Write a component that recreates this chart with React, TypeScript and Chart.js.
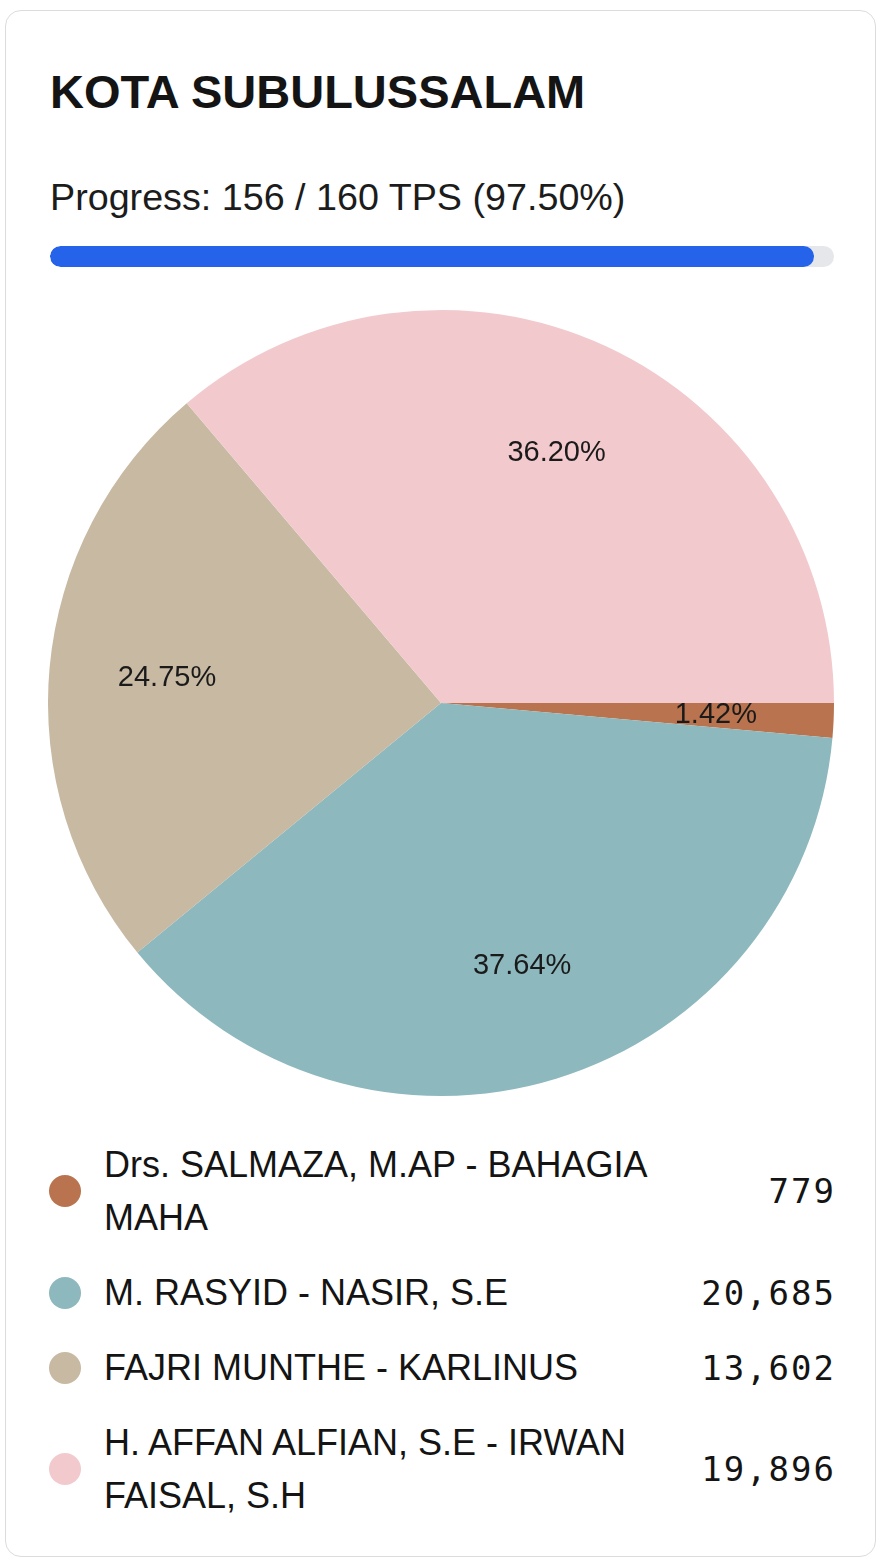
import React, { useEffect, useRef } from "react";
import { Chart, registerables } from "chart.js";

Chart.register(...registerables);

const title = "KOTA SUBULUSSALAM";
const tpsDone = 156;
const tpsTotal = 160;
const candidates = [
  "Drs. SALMAZA, M.AP - BAHAGIA MAHA",
  "M. RASYID - NASIR, S.E",
  "FAJRI MUNTHE - KARLINUS",
  "H. AFFAN ALFIAN, S.E - IRWAN FAISAL, S.H",
];
const votes = [779, 20685, 13602, 19896];
const colors = ["#b9744f", "#8db8bd", "#c8b9a3", "#f2cace"];

const FONT = "'Liberation Sans', Arial, sans-serif";

const pctPlugin = {
  id: "pctLabels",
  afterDatasetsDraw(chart: any) {
    const ctx = chart.ctx;
    const meta = chart.getDatasetMeta(0);
    const data = chart.data.datasets[0].data as number[];
    const total = data.reduce((a, b) => a + b, 0);
    ctx.save();
    ctx.font = `29px ${FONT}`;
    ctx.fillStyle = "#1a1a1a";
    ctx.textAlign = "center";
    ctx.textBaseline = "middle";
    meta.data.forEach((arc: any, i: number) => {
      const p = arc.getProps(["x", "y", "startAngle", "endAngle", "outerRadius"], true);
      const mid = (p.startAngle + p.endAngle) / 2;
      const r = p.outerRadius * 0.7;
      const x = p.x + Math.cos(mid) * r;
      const y = p.y + Math.sin(mid) * r;
      ctx.fillText(((data[i] / total) * 100).toFixed(2) + "%", x, y);
    });
    ctx.restore();
  },
};

function PieChart() {
  const ref = useRef<HTMLCanvasElement>(null);
  useEffect(() => {
    if (!ref.current) return;
    const chart = new Chart(ref.current, {
      type: "pie",
      data: {
        labels: candidates,
        datasets: [
          {
            data: votes,
            backgroundColor: colors,
            borderWidth: 0,
          },
        ],
      },
      options: {
        animation: false,
        responsive: false,
        maintainAspectRatio: false,
        rotation: 90,
        layout: { padding: 0 },
        plugins: {
          legend: { display: false },
          tooltip: { enabled: false },
        },
      },
      plugins: [pctPlugin],
    });
    return () => chart.destroy();
  }, []);
  return (
    <canvas
      ref={ref}
      width={786}
      height={786}
      style={{ position: "absolute", left: 48, top: 310, width: 786, height: 786 }}
    />
  );
}

export default function App() {
  const pct = (tpsDone / tpsTotal) * 100;
  return (
    <div style={{ fontFamily: FONT, color: "#141414" }}>
      <div
        style={{
          position: "absolute",
          left: 5,
          top: 10,
          width: 869,
          height: 1545,
          border: "1px solid #dcdcdc",
          borderRadius: 16,
          background: "#fff",
        }}
      />
      <div
        style={{
          position: "absolute",
          left: 50,
          top: 68,
          fontSize: 47,
          lineHeight: "47px",
          fontWeight: 700,
          whiteSpace: "nowrap",
        }}
      >
        {title}
      </div>
      <div
        style={{
          position: "absolute",
          left: 50,
          top: 178,
          fontSize: 37.7,
          lineHeight: "38px",
          whiteSpace: "nowrap",
          color: "#1c1c1c",
        }}
      >
        {`Progress: ${tpsDone} / ${tpsTotal} TPS (${pct.toFixed(2)}%)`}
      </div>
      <div
        style={{
          position: "absolute",
          left: 50,
          top: 246,
          width: 784,
          height: 21,
          borderRadius: 11,
          background: "#e5e7eb",
          overflow: "hidden",
        }}
      >
        <div
          style={{
            width: `${pct}%`,
            height: "100%",
            borderRadius: 11,
            background: "#2563eb",
          }}
        />
      </div>
      <PieChart />
      <div
        style={{
          position: "absolute",
          left: 48,
          top: 1138,
          width: 786,
          display: "flex",
          flexDirection: "column",
          gap: 22,
        }}
      >
        {candidates.map((name, i) => (
          <div key={i} style={{ display: "flex", alignItems: "center" }}>
            <div
              style={{
                width: 32,
                height: 32,
                borderRadius: "50%",
                background: colors[i],
                marginLeft: 1,
                marginRight: 23,
                flexShrink: 0,
              }}
            />
            <div style={{ flex: 1, fontSize: 36, lineHeight: "53px", maxWidth: 590 }}>{name}</div>
            <div
              style={{
                marginLeft: "auto",
                fontFamily: "'DejaVu Sans Mono', monospace",
                fontSize: 34,
                letterSpacing: 2,
                textAlign: "right",
                whiteSpace: "nowrap",
                marginRight: -2,
              }}
            >
              {votes[i].toLocaleString("en-US")}
            </div>
          </div>
        ))}
      </div>
    </div>
  );
}
